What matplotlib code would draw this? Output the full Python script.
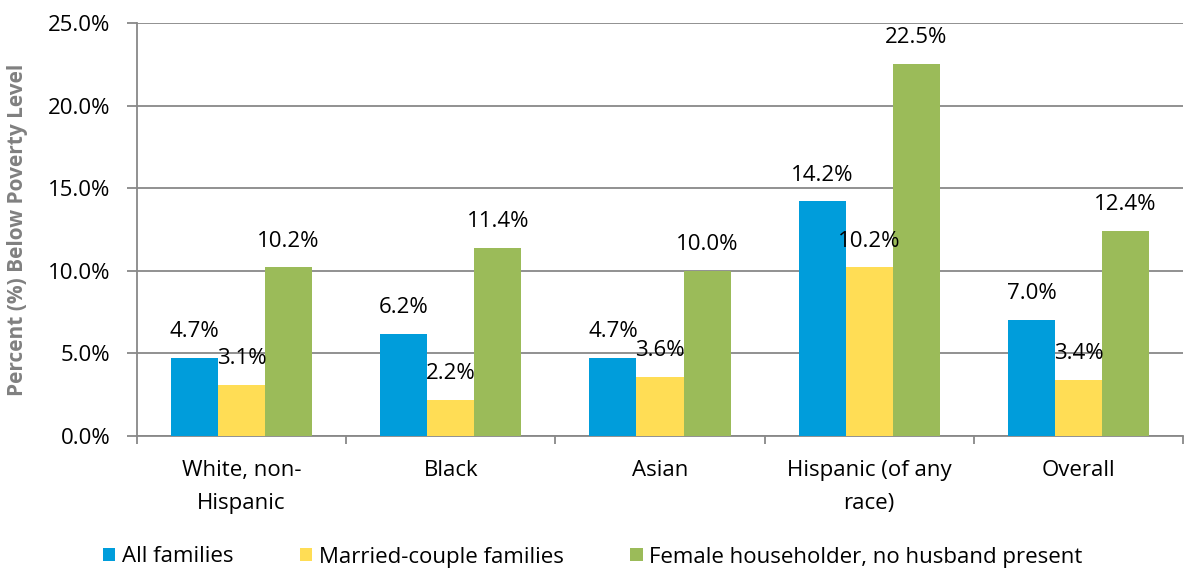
import matplotlib
matplotlib.use("Agg")
import matplotlib.pyplot as plt
import numpy as np
from matplotlib.ticker import FuncFormatter, FixedLocator

categories = ["White, non-\nHispanic", "Black", "Asian", "Hispanic (of any\nrace)", "Overall"]
series_names = ["All families", "Married-couple families", "Female householder, no husband present"]
all_families = [4.7, 6.2, 4.7, 14.2, 7.0]
married_couple = [3.1, 2.2, 3.6, 10.2, 3.4]
female_householder = [10.2, 11.4, 10.0, 22.5, 12.4]
colors = ["#009DDB", "#FFDD55", "#9BBB59"]

plt.rcParams['font.family'] = ['Open Sans', 'DejaVu Sans']
FS = 16

fig = plt.figure(figsize=(11.86, 5.72), dpi=100)
ax = fig.add_axes([137/1186, 1-436/572, (1183-137)/1186, (436-23)/572])

x = np.arange(len(categories))
bw = 0.2247
series = [all_families, married_couple, female_householder]
for i, (vals, col, name) in enumerate(zip(series, colors, series_names)):
    pos = x + (i - 1) * bw
    ax.bar(pos, vals, width=bw, color=col, label=name, zorder=3)
    for p, v in zip(pos, vals):
        ax.annotate(f"{v:.1f}%", (p, v), xytext=(0, 19), textcoords="offset points",
                    ha="center", va="center", fontsize=FS, color="black", zorder=4)

ax.set_xlim(-0.5, len(categories) - 0.5)
ax.set_ylim(0, 25)
ax.set_yticks(np.arange(0, 25.1, 5))
ax.yaxis.set_major_formatter(FuncFormatter(lambda v, _: f"{v:.1f}%"))
ax.grid(axis="y", color="#888888", linewidth=1.3, zorder=0)
ax.set_axisbelow(True)

ax.set_xticks(x)
ax.set_xticklabels(categories, fontsize=FS, linespacing=1.75, va="top")
ax.tick_params(axis="x", length=0, pad=17)
ax.xaxis.set_minor_locator(FixedLocator(np.arange(-0.5, len(categories), 1)))
ax.tick_params(axis="x", which="minor", length=6, color="#888888", width=1.3)
ax.tick_params(axis="y", length=7, color="#888888", width=1.3, labelsize=FS, pad=12)

for s in ["top", "right"]:
    ax.spines[s].set_visible(False)
for s in ["left", "bottom"]:
    ax.spines[s].set_color("#888888")
    ax.spines[s].set_linewidth(1.3)

ax.set_ylabel("Percent (%) Below Poverty Level", fontsize=15, fontweight="bold",
              color="#808080", labelpad=4)
ax.yaxis.set_label_coords(-0.104, 0.5)

fig.legend(loc="center left", bbox_to_anchor=(94/1186, 1 - 557/572), ncol=3, frameon=False,
           fontsize=FS, handlelength=0.55, handleheight=0.55, handletextpad=0.3,
           columnspacing=3.0, borderaxespad=0)

fig.savefig("out.png", dpi=100)
